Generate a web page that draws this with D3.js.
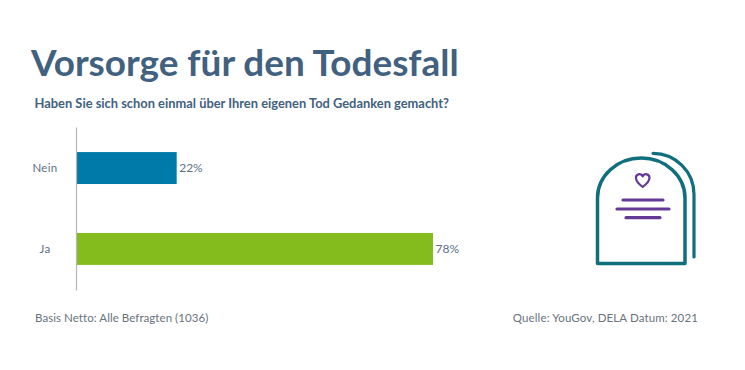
<!DOCTYPE html>
<html><head><meta charset="utf-8">
<script src="https://cdn.jsdelivr.net/npm/d3@7"></script>
<style>html,body{margin:0;background:#fff}svg{display:block}text{font-family:Lato,sans-serif}</style>
</head><body><svg id="c" width="745" height="370"></svg>
<script>
const categories = ["Nein", "Ja"];
const values = [22, 78];
const barColors = ["#007aa8", "#84bc1e"];
const title = "Vorsorge für den Todesfall";
const subtitle = "Haben Sie sich schon einmal über Ihren eigenen Tod Gedanken gemacht?";
const footLeft = "Basis Netto: Alle Befragten (1036)";
const footRight = "Quelle: YouGov, DELA Datum: 2021";

const svg = d3.select("#c");
const x = d3.scaleLinear().domain([0, 78]).range([76, 433]);
const y = d3.scaleBand().domain(categories).range([127, 290]).paddingInner(0.605).paddingOuter(0.31);

svg.append("text").attr("x", 31).attr("y", 76).attr("fill", "#41617f")
  .attr("font-size", 36.9).attr("font-weight", 700).text(title);
svg.append("text").attr("x", 34.5).attr("y", 108).attr("fill", "#41617f")
  .attr("font-size", 12.88).attr("font-weight", 700).text(subtitle);

svg.selectAll("rect.bar").data(values).join("rect").attr("class", "bar")
  .attr("x", x(0)).attr("y", (d, i) => y(categories[i]))
  .attr("width", d => x(d) - x(0)).attr("height", y.bandwidth())
  .attr("fill", (d, i) => barColors[i]);

const axis = d3.axisLeft(y).tickSize(0).tickPadding(31);
const g = svg.append("g").attr("transform", `translate(${x(0)},0)`).call(axis);
g.select(".domain").attr("stroke", "#b5b5b5").attr("stroke-width", 1.2);
g.selectAll("text").attr("font-size", 11.5).attr("fill", "#5a7086").attr("text-anchor", "middle")
  .style("font-family", "Lato,sans-serif").attr("letter-spacing", 0.3);

svg.selectAll("text.val").data(values).join("text").attr("class", "val")
  .attr("x", d => x(d) + 2.5).attr("y", (d, i) => y(categories[i]) + y.bandwidth() / 2)
  .attr("dy", "0.35em").attr("font-size", 12).attr("fill", "#5a7086").text(d => d + "%");

svg.append("text").attr("x", 35).attr("y", 322).attr("font-size", 11.5)
  .attr("fill", "#68737d").attr("letter-spacing", 0.06).text(footLeft);
svg.append("text").attr("x", 698).attr("y", 322).attr("text-anchor", "end").attr("font-size", 11.5)
  .attr("fill", "#68737d").attr("letter-spacing", 0.12).text(footRight);

const icon = svg.append("g").attr("fill", "none").attr("stroke-linecap", "round").attr("stroke-linejoin", "round");
icon.append("path").attr("stroke", "#0f6f7c").attr("stroke-width", 3.5)
  .attr("d", "M597.5 263.5V198A43.75 40 0 0 1 685 198V263.5Z");
icon.append("path").attr("stroke", "#0f6f7c").attr("stroke-width", 3.2)
  .attr("d", "M653 153.3A41 41 0 0 1 694 194.3V257");
icon.append("path").attr("stroke", "#653a97").attr("stroke-width", 2.2)
  .attr("d", "M642.7 187C637.5 183 636 180.5 636 178.3A3.5 3.5 0 0 1 642.7 176.4A3.5 3.5 0 0 1 649.4 178.3C649.4 180.5 647.9 183 642.7 187Z");
icon.append("path").attr("stroke", "#653a97").attr("stroke-width", 3.2)
  .attr("d", "M623 200H663M617 209H669M626 217.7H660");
</script></body></html>
